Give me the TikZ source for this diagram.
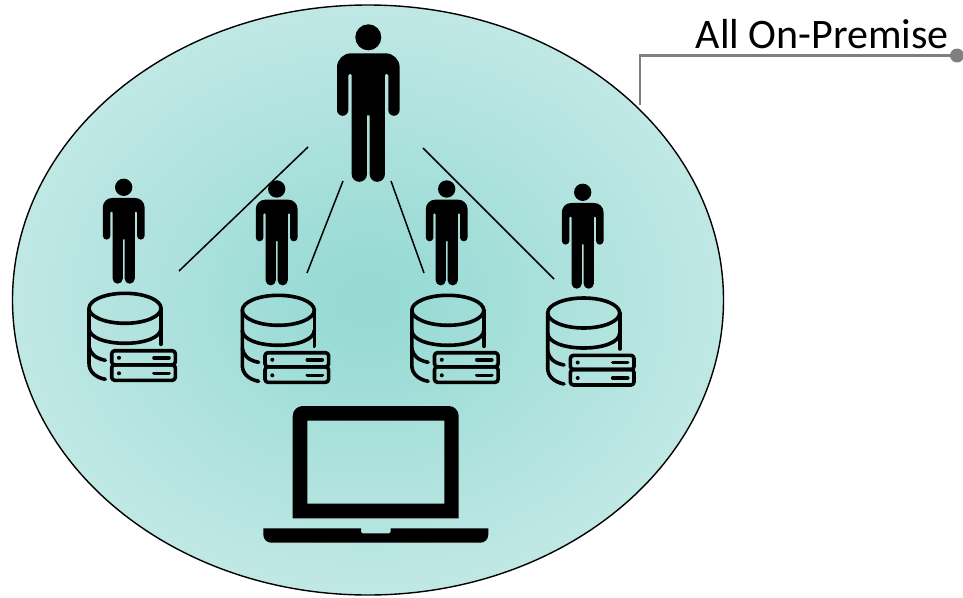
\documentclass[tikz,border=0pt]{standalone}
\usepackage{fontspec}
\setmainfont{Carlito}
\definecolor{tealin}{HTML}{97DAD4}
\definecolor{tealmid}{HTML}{B2E3DF}
\definecolor{tealout}{HTML}{CAECE9}
\definecolor{leader}{HTML}{7F7F7F}
\pgfdeclareradialshading{bubble}{\pgfpointorigin}{color(0bp)=(tealin);color(2bp)=(tealin);color(17bp)=(tealmid);color(31bp)=(tealout);color(100bp)=(tealout)}
\tikzset{
  link/.style={draw=black,line width=1.5pt},
  dbline/.style={draw=black,line width=3.6pt,line cap=round,line join=round},
  leaderline/.style={draw=leader,line width=2.4pt},
  bubbleshape/.style={draw=black,line width=1.4pt,shading=bubble},
}
% x, y of head centre, scale
\newcommand{\personicon}[3]{%
  \begin{scope}[shift={(#1,#2)},scale=#3]
    \pgfmathsetmacro{\rA}{14*#3}\pgfmathsetmacro{\rB}{5.75*#3}\pgfmathsetmacro{\rC}{7.5*#3}\pgfmathsetmacro{\rD}{1.4*#3}
    \fill[black] (0,0) circle (13);
    \fill[black] (1.4,78)
      [rounded corners=\rC pt] -- (1.4,144.5) -- (16.6,144.5)
      [rounded corners=\rD pt] -- (16.6,36.5) -- (20,36.5)
      [rounded corners=\rB pt] -- (20,78.5) -- (31.3,78.5)
      [rounded corners=\rA pt] -- (31.3,16) -- (-31.3,16)
      [rounded corners=\rB pt] -- (-31.3,78.5) -- (-20,78.5)
      [rounded corners=\rD pt] -- (-20,36.5) -- (-16.6,36.5)
      [rounded corners=\rC pt] -- (-16.6,144.5) -- (-1.4,144.5)
      [sharp corners] -- (-1.4,78) -- cycle;
  \end{scope}}
% x, y of the top ellipse centre
\newcommand{\dbicon}[2]{%
  \begin{scope}[shift={(#1,#2)}]
    \draw[dbline] (0,0) ellipse [x radius=36,y radius=15];
    \draw[dbline] (-36,0) -- (-36,55) .. controls (-36,63) and (-30,69) .. (-19.7,71);
    \draw[dbline] (36,0) -- (36,36);
    \draw[dbline] (-36,20) .. controls (-36,29) and (-20,35) .. (0,35) .. controls (20,35) and (36,29) .. (36,20);
    \draw[dbline] (-36,38) .. controls (-35,45) and (-30,50) .. (-19.7,52);
    \draw[dbline,rounded corners=3pt] (-13.3,42.4) rectangle (50.3,56.5);
    \draw[dbline,rounded corners=3pt] (-13.3,56.5) rectangle (50.3,72);
    \fill[black] (-6,49.5) circle (2) (-6,65) circle (2);
    \draw[dbline] (29,49.5) -- (44,49.5) (29,65) -- (44,65);
  \end{scope}}
\begin{document}
\begin{tikzpicture}[x=1pt,y=-1pt]
  \useasboundingbox (0,0) rectangle (963,597);
  \path[bubbleshape] (368,300) ellipse [x radius=355.5,y radius=295];

  \coordinate (bendc) at (640,55.5);
  \coordinate (leaderfoot) at (640,105);
  \coordinate (leaderend) at (957,55.5);
  \draw[leaderline] (leaderfoot) -- (bendc) -- (leaderend);
  \fill[leader] (leaderend) circle (7);
  \node[anchor=base east,inner sep=0pt,font=\fontsize{42}{42}\selectfont] (title) at (949,48) {All On-Premise};

  \coordinate (a1) at (308,147); \coordinate (a2) at (179,271);
  \coordinate (b1) at (343,181); \coordinate (b2) at (307,273);
  \coordinate (c1) at (391,181); \coordinate (c2) at (424,273);
  \coordinate (d1) at (423,148); \coordinate (d2) at (554,279);
  \draw[link] (a1) -- (a2);
  \draw[link] (b1) -- (b2);
  \draw[link] (c1) -- (c2);
  \draw[link] (d1) -- (d2);

  \personicon{368.3}{37.3}{1}
  \personicon{123.7}{187.3}{0.667}
  \personicon{276.7}{189}{0.667}
  \personicon{446.7}{189}{0.667}
  \personicon{582.7}{192.3}{0.667}

  \dbicon{125}{308.3}
  \dbicon{278.3}{310.3}
  \dbicon{447.8}{310.3}
  \dbicon{583.7}{313}

  % laptop
  \fill[black,even odd rule]
    (292.7,518.3) [rounded corners=10pt] -- (292.7,406) -- (458.7,406) [sharp corners] -- (458.7,518.3) -- cycle
    (307.3,420.7) rectangle (444.3,503.7);
  \fill[black] (263.3,528.3) -- (361,528.3) [rounded corners=1.5pt] -- (361,533.3) -- (390.7,533.3) [sharp corners] -- (390.7,528.3) -- (488.3,528.3)
    [rounded corners=8pt] -- (488.3,542.7) -- (263.3,542.7) [sharp corners] -- cycle;
\end{tikzpicture}
\end{document}
